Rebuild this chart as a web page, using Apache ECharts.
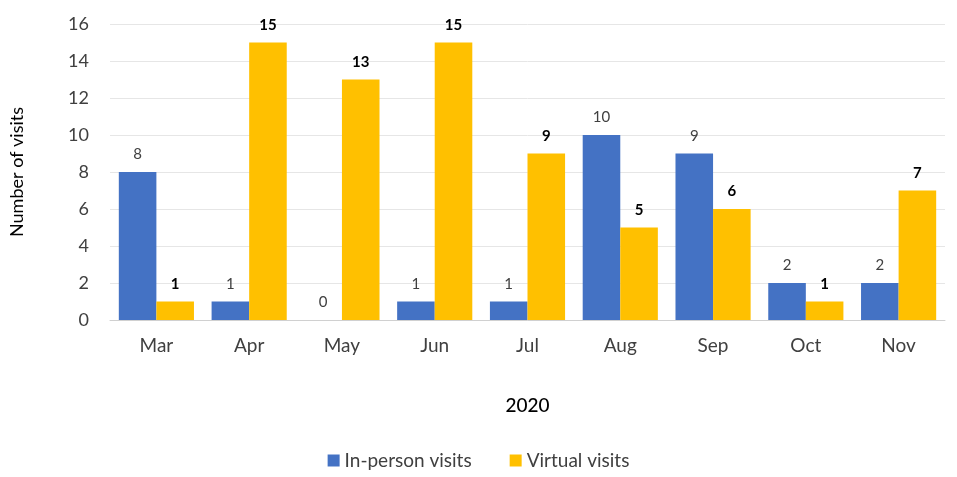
<!DOCTYPE html>
<html>
<head>
<meta charset="utf-8">
<script src="https://cdn.jsdelivr.net/npm/echarts@6/dist/echarts.min.js"></script>
<style>
  html, body { margin: 0; padding: 0; background: #fff; }
  #chart { width: 957px; height: 477px; }
</style>
</head>
<body>
<div id="chart"></div>
<script>
const months = ['Mar', 'Apr', 'May', 'Jun', 'Jul', 'Aug', 'Sep', 'Oct', 'Nov'];
const inPerson = [8, 1, 0, 1, 1, 10, 9, 2, 2];
const virtual = [1, 15, 13, 15, 9, 5, 6, 1, 7];

const font = 'Lato, "Open Sans", sans-serif';
const chart = echarts.init(document.getElementById('chart'));

chart.setOption({
  animation: false,
  textStyle: { fontFamily: font },
  color: ['#4472C4', '#FFC000'],
  grid: { left: 106, right: 12, top: 24, bottom: 157 },
  legend: {
    top: 446,
    left: 'center',
    itemWidth: 12,
    itemHeight: 12,
    itemGap: 38,
    icon: 'rect',
    textStyle: { fontFamily: font, fontSize: 19, color: '#404040' },
    data: ['In-person visits', 'Virtual visits']
  },
  xAxis: {
    type: 'category',
    data: months,
    name: '2020',
    nameLocation: 'middle',
    nameGap: 76,
    nameTextStyle: { fontFamily: font, fontSize: 19, color: '#000', fontWeight: 500 },
    axisLine: { lineStyle: { color: '#d0d0d0' } },
    axisTick: { show: false },
    axisLabel: { fontFamily: font, fontSize: 19, color: '#404040', margin: 16 }
  },
  yAxis: {
    type: 'value',
    min: 0,
    max: 16,
    interval: 2,
    name: 'Number of visits',
    nameLocation: 'middle',
    nameRotate: 90,
    nameGap: 84,
    nameTextStyle: { fontFamily: font, fontSize: 18, color: '#000' },
    axisLine: { show: false },
    axisTick: { show: false },
    axisLabel: { fontFamily: font, fontSize: 18, color: '#404040', margin: 21 },
    splitLine: { lineStyle: { color: '#e6e6e6' } }
  },
  series: [
    {
      name: 'In-person visits',
      type: 'bar',
      data: inPerson,
      barGap: '0%',
      barCategoryGap: '19%',
      label: { show: true, position: 'top', distance: 10, fontFamily: font, fontSize: 15, color: '#404040' }
    },
    {
      name: 'Virtual visits',
      type: 'bar',
      data: virtual,
      barGap: '0%',
      barCategoryGap: '19%',
      label: { show: true, position: 'top', distance: 10, fontFamily: font, fontSize: 15, fontWeight: 'bold', color: '#000' }
    }
  ]
});
</script>
</body>
</html>
